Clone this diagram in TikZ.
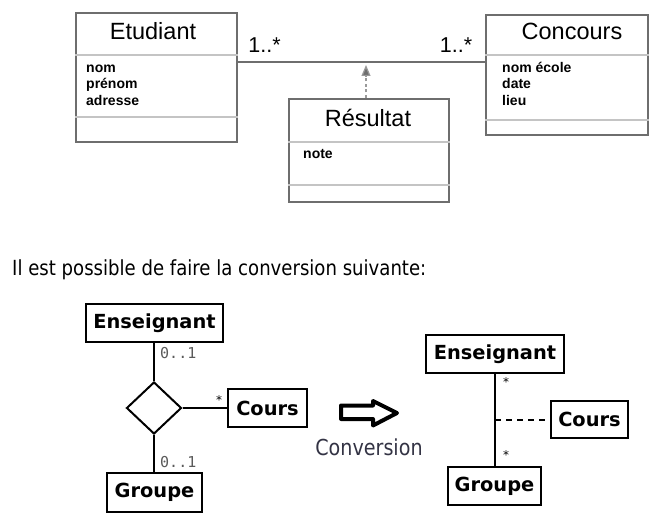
\documentclass[tikz,border=0pt]{standalone}
\usepackage{fontspec}
\setmainfont{Liberation Sans}
\newfontfamily\umlfont{DejaVu Sans}
\newfontfamily\txtfont[FakeStretch=0.87]{DejaVu Sans}
\newfontfamily\monofont{DejaVu Sans Mono}
\usetikzlibrary{shapes.geometric,arrows.meta}
\definecolor{boxgray}{HTML}{6E6E6E}
\definecolor{sepgray}{HTML}{C4C4C4}
\definecolor{dashgray}{HTML}{9A9A9A}
\definecolor{multgray}{HTML}{5A5A5A}
\definecolor{convtxt}{HTML}{333344}
\tikzset{
  classbox/.style={draw=boxgray, line width=2pt, rectangle, inner sep=0pt},
  cname/.style={anchor=base, inner sep=0pt, font=\fontsize{23.5}{26}\selectfont},
  attr/.style={anchor=base west, inner sep=0pt, font=\fontsize{14}{16}\selectfont\bfseries},
  mult/.style={anchor=base, inner sep=0pt, font=\fontsize{21.5}{24}\selectfont},
  sep/.style={draw=sepgray, line width=1.2pt},
  ebox/.style={draw=black, line width=2pt, rectangle, inner sep=0pt, font=\umlfont\fontsize{19.4}{22}\selectfont\bfseries},
  zeroone/.style={anchor=west, inner sep=0pt, text=multgray, font=\monofont\fontsize{15}{17}\selectfont},
  star/.style={inner sep=0pt, font=\umlfont\fontsize{12}{14}\selectfont},
  link/.style={draw=black, line width=2pt},
}
\begin{document}
\begin{tikzpicture}[x=1pt,y=-1pt]
\useasboundingbox (0,0) rectangle (665,519);
% ---------- top diagram ----------
\node[classbox, minimum width=161pt, minimum height=129pt] (etud) at (156.5,77.5) {};
\node[classbox, minimum width=162pt, minimum height=120pt] (conc) at (567,75) {};
\node[classbox, minimum width=160pt, minimum height=103pt] (resu) at (369,150.5) {};
\draw[sep] (etud.west |- 0,55) -- (etud.east |- 0,55);
\draw[sep] (etud.west |- 0,117) -- (etud.east |- 0,117);
\draw[sep] (conc.west |- 0,55) -- (conc.east |- 0,55);
\draw[sep] (conc.west |- 0,120) -- (conc.east |- 0,120);
\draw[sep] (resu.west |- 0,142) -- (resu.east |- 0,142);
\draw[sep] (resu.west |- 0,185) -- (resu.east |- 0,185);
\node[cname] (etudname) at (153,40) {Etudiant};
\node[cname] (concname) at (572,40) {Concours};
\node[cname] (resuname) at (368,127) {Résultat};
\node[attr] (a1) at (86,72.5) {nom};
\node[attr] (a2) at (86,89) {prénom};
\node[attr] (a3) at (86,105.5) {adresse};
\node[attr] (b1) at (502,72.5) {nom école};
\node[attr] (b2) at (502,89) {date};
\node[attr] (b3) at (502,105.5) {lieu};
\node[attr] (c1) at (303,159) {note};
\coordinate (assoc) at (366,62);
\draw[draw=boxgray, line width=1.8pt] (etud.east |- assoc) -- (conc.west |- assoc);
\draw[draw=dashgray, line width=1.2pt, dash pattern=on 3pt off 2.5pt, -{Triangle[length=11pt,width=9pt,fill=boxgray]}, shorten >=3pt, color=dashgray] (resu.north -| assoc) -- (assoc);
\node[mult] (m1) at (264.5,53) {1..*};
\node[mult] (m2) at (456,53) {1..*};
% ---------- sentence ----------
\node[anchor=base west, inner sep=0pt, font=\txtfont\fontsize{20.8}{24}\selectfont] (phrase) at (12,275) {Il est possible de faire la conversion suivante:};
% ---------- bottom left ----------
\node[ebox, minimum width=137pt, minimum height=38pt] (ens1) at (154.5,323) {Enseignant};
\node[ebox, minimum width=79pt, minimum height=38pt] (cours1) at (267.5,408) {Cours};
\node[ebox, minimum width=95pt, minimum height=39pt] (grp1) at (154.5,492.5) {Groupe};
\node[draw=black, line width=2pt, diamond, inner sep=0pt, minimum width=55pt, minimum height=52pt] (dia) at (154,408) {};
\draw[link] (ens1.south -| dia) -- (dia.north);
\draw[link] (dia.east) -- (cours1.west);
\draw[link] (dia.south) -- (grp1.north -| dia);
\node[zeroone] (z1) at (160,353) {0..1};
\node[zeroone] (z2) at (160,462) {0..1};
\node[star] (s1) at (219,400) {*};
% ---------- conversion arrow ----------
\draw[black, line width=4pt, fill=white, line join=round] (341,405.5) -- (373,405.5) -- (373,401) -- (397,413) -- (373,425.5) -- (373,419) -- (341,419) -- cycle;
\node[anchor=base, inner sep=0pt, text=convtxt, font=\txtfont\fontsize{22}{26}\selectfont] (conv) at (369,455) {Conversion};
% ---------- bottom right ----------
\node[ebox, minimum width=138pt, minimum height=38pt] (ens2) at (495,354) {Enseignant};
\node[ebox, minimum width=77pt, minimum height=37pt] (cours2) at (589.5,419.5) {Cours};
\node[ebox, minimum width=93pt, minimum height=38pt] (grp2) at (494.5,486) {Groupe};
\draw[link] (ens2.south) -- (grp2.north -| ens2.south);
\coordinate (mid) at (495,419.5);
\draw[link, dash pattern=on 6pt off 5pt] (mid) -- (cours2.west);
\node[star] (s2) at (506,382) {*};
\node[star] (s3) at (506,455) {*};
\end{tikzpicture}
\end{document}
